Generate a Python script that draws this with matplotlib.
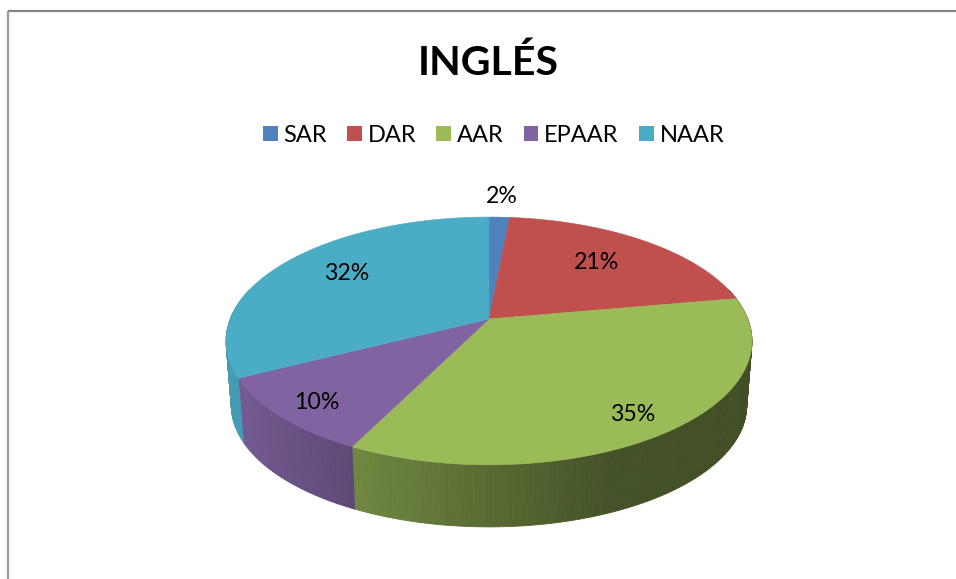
"""
Kakediagram i 3D-stil: INGLÉS
"""
import matplotlib
matplotlib.use("Agg")
import matplotlib.pyplot as plt
import numpy as np
from matplotlib.patches import Patch, Polygon

categories = ["SAR", "DAR", "AAR", "EPAAR", "NAAR"]
values = [1.5, 20.7, 35.15, 10.15, 32.5]
labels = ["2%", "21%", "35%", "10%", "32%"]
colors = ["#4F81BD", "#C0504D", "#9BBB59", "#8064A2", "#4BACC6"]
label_r = [1.25, 0.66, 0.84, 0.85, 0.70]
label_dx = [0, 1, -4, 1, 3]
label_dy = [0, -3, 4, 2, -4]

# Geometri i piksler for perspektivet
cx, cy = 489, 319
R, a, k = 258.8, 120.0, 0.177
depth, shrink = 65, 0.98


def project(r, t):
    """Punkt på skiva (radius r, vinkel t med klokka fra toppen) til piksler."""
    u = r * np.sin(t)
    v = r * np.cos(t)
    s = 1 / (1 + k * v)
    return cx + R * u * s, cy - a * v * s


def shade(x):
    """Mørkere sidekant mot høyre."""
    return np.interp(x, [237, 355, 480, 610, 753], [0.90, 0.72, 0.58, 0.44, 0.42])


def darker(color, f):
    return tuple(c * f for c in matplotlib.colors.to_rgb(color))


plt.rcParams["font.family"] = ["Lato", "DejaVu Sans"]
fig = plt.figure(figsize=(9.56, 5.79), dpi=100)
ax = fig.add_axes([0, 0, 1, 1])
ax.set_xlim(0, 956)
ax.set_ylim(579, 0)
ax.axis("off")

# Ramme (bare topp og venstre er synlig)
ax.plot([8.5, 956], [11, 11], color="#868686", lw=1.6, solid_capstyle="butt")
ax.plot([8.5, 8.5], [11, 579], color="#9a9a9a", lw=1.6, solid_capstyle="butt")

fractions = np.array(values) / sum(values)
edges = np.concatenate([[0], np.cumsum(fractions)]) * 2 * np.pi

# Sidekant først, deretter toppen
for i in range(len(values)):
    ts = np.linspace(edges[i], edges[i + 1], max(int(fractions[i] * 400), 3))
    for t0, t1 in zip(ts[:-1], ts[1:]):
        if np.cos((t0 + t1) / 2) > 0.25:
            continue
        x0, y0 = project(1, t0)
        x1, y1 = project(1, t1)
        x2 = cx + (x1 - cx) * shrink
        y2 = cy + (y1 - cy) * shrink + depth
        x3 = cx + (x0 - cx) * shrink
        y3 = cy + (y0 - cy) * shrink + depth
        c = darker(colors[i], shade((x0 + x1) / 2))
        ax.add_patch(Polygon([(x0, y0), (x1, y1), (x2, y2), (x3, y3)],
                             facecolor=c, edgecolor=c, lw=0.6))

for i in range(len(values)):
    ts = np.linspace(edges[i], edges[i + 1], 120)
    xs, ys = project(1, ts)
    pts = [(cx, cy)] + list(zip(xs, ys))
    ax.add_patch(Polygon(pts, facecolor=colors[i], edgecolor=colors[i], lw=0.4))

for i in range(len(values)):
    mid = (edges[i] + edges[i + 1]) / 2
    x, y = project(label_r[i], mid)
    ax.text(x + label_dx[i], y + label_dy[i], labels[i], ha="center", va="center",
            fontsize=16.7, color="black")

ax.text(488, 63.5, "INGLÉS", ha="center", va="center", fontsize=29.6,
        fontweight="bold", color="black")

handles = [Patch(facecolor=c, edgecolor="none") for c in colors]
ax.legend(handles, categories, ncol=5, frameon=False, fontsize=17,
          loc="center", bbox_to_anchor=(493.5, 135.5),
          bbox_transform=ax.transData, handlelength=0.63, handleheight=0.63,
          handletextpad=0.25, columnspacing=0.84, borderpad=0)

fig.savefig("out.png", dpi=100)
